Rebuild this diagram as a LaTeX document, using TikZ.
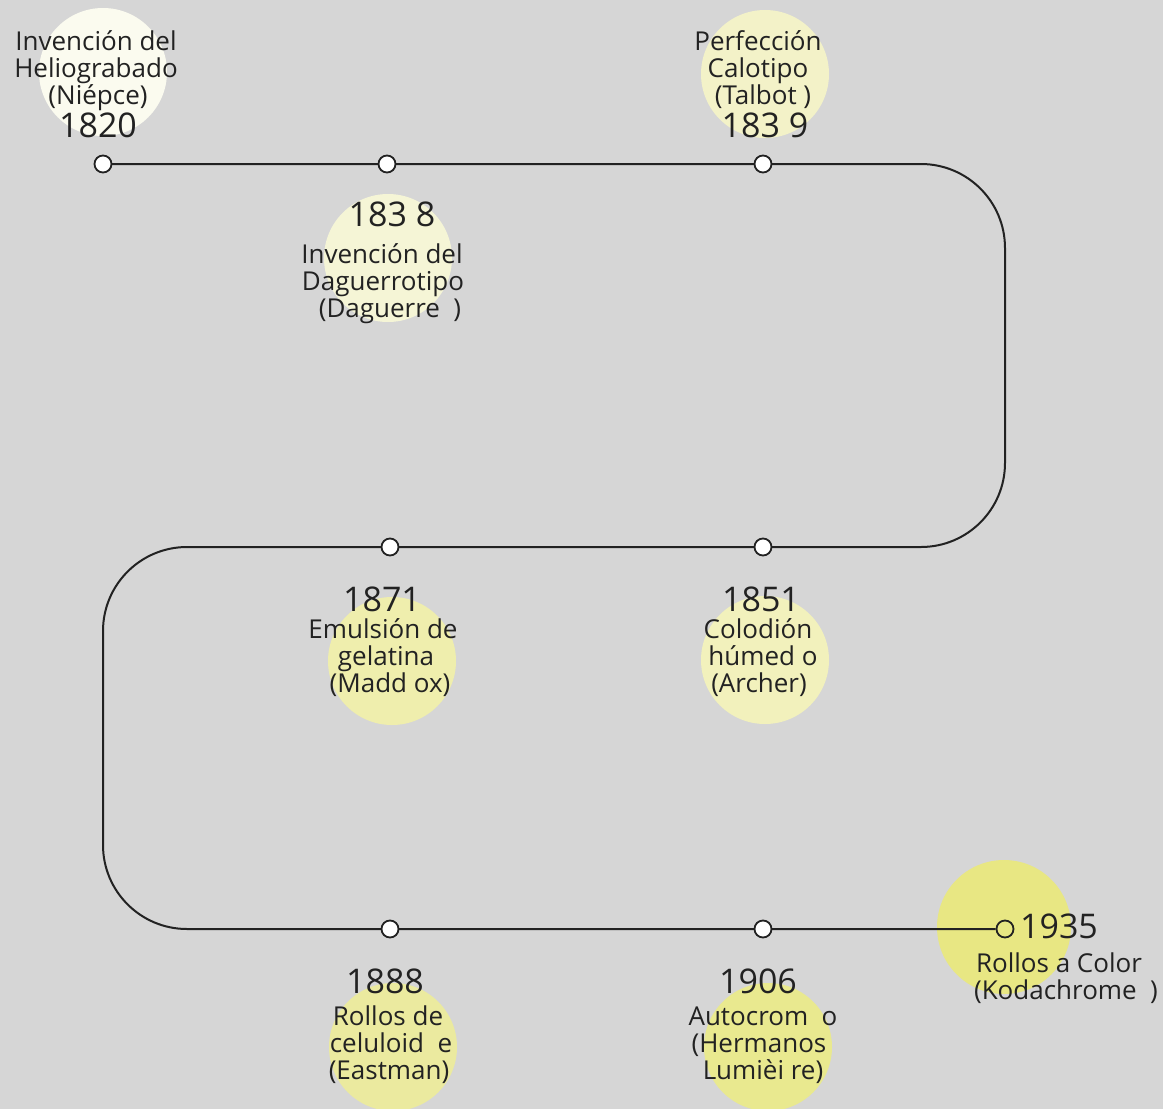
\documentclass[tikz,border=0pt]{standalone}
\usepackage{fontspec}
\setmainfont{Open Sans}
\pgfdeclarelayer{back}
\pgfdeclarelayer{lines}
\pgfsetlayers{back,lines,main}
\definecolor{bgc}{HTML}{D6D6D6}
\definecolor{ink}{HTML}{222222}
\definecolor{b1}{HTML}{FBFBEF}
\definecolor{b2}{HTML}{F5F5D6}
\definecolor{b3}{HTML}{F3F2C8}
\definecolor{b4}{HTML}{EFEEAD}
\definecolor{b5}{HTML}{F2F1BC}
\definecolor{b6}{HTML}{EBEA9F}
\definecolor{b7}{HTML}{E9E98F}
\definecolor{b8}{HTML}{E8E783}
\tikzset{
  bubble/.style={circle, minimum size=128pt, inner sep=0pt, draw=none},
  dot/.style={circle, minimum size=17pt, inner sep=0pt, draw=ink, line width=1.8pt, fill=white},
  hollowdot/.style={circle, minimum size=17pt, inner sep=0pt, draw=ink, line width=1.8pt},
  lbl/.style={text=ink, inner sep=0pt, anchor=base, font=\fontsize{26}{27}\selectfont},
  yr/.style={text=ink, inner sep=0pt, anchor=base, font=\fontsize{34}{36}\selectfont},
  track/.style={draw=ink, line width=2pt, rounded corners=84pt}
}
\begin{document}
\begin{tikzpicture}[x=1pt,y=-1pt]
\useasboundingbox (0,0) rectangle (1163,1109);
\begin{pgfonlayer}{back}
\fill[bgc] (0,0) rectangle (1163,1109);
\node[bubble, fill=b1] (c1820) at (103,72) {};
\node[bubble, fill=b2] (c1838) at (388,258) {};
\node[bubble, fill=b3] (c1839) at (765,74) {};
\node[bubble, fill=b4] (c1871) at (392,661) {};
\node[bubble, fill=b5] (c1851) at (765,660) {};
\node[bubble, fill=b6] (c1888) at (393,1047) {};
\node[bubble, fill=b7] (c1906) at (768,1047) {};
\node[bubble, fill=b8, minimum size=134pt] (c1935) at (1004,927) {};
\end{pgfonlayer}

\node[dot] (d1820) at (103,164) {};
\node[dot] (d1838) at (387,164) {};
\node[dot] (d1839) at (763,164) {};
\coordinate (k1) at (1005,164);
\coordinate (k2) at (1005,547);
\node[dot] (d1851) at (763,547) {};
\node[dot] (d1871) at (390,547) {};
\coordinate (k3) at (103,547);
\coordinate (k4) at (103,929);
\node[dot] (d1888) at (390,929) {};
\node[dot] (d1906) at (763,929) {};
\node[hollowdot] (d1935) at (1005,929) {};

\begin{pgfonlayer}{lines}
\draw[track] (d1820.center) -- (d1838.center) -- (d1839.center) -- (k1) -- (k2)
  -- (d1851.center) -- (d1871.center) -- (k3) -- (k4) -- (d1888.center)
  -- (d1906.center) -- (d1935.west);
\end{pgfonlayer}

% 1820
\node[lbl] (t1820a) at (96,50) {Invención del};
\node[lbl] (t1820b) at (96,77) {Heliograbado};
\node[lbl] (t1820c) at (98,104) {(Niépce)};
\node[yr] (y1820) at (98,137) {1820};
% 1838
\node[yr] (y1838) at (392,226) {183 8};
\node[lbl] (t1838a) at (382,263) {Invención del};
\node[lbl] (t1838b) at (383,290) {Daguerrotipo};
\node[lbl] (t1838c) at (390,317) {(Daguerre\ \ )};
% 1839
\node[lbl] (t1839a) at (758,50) {Perfección};
\node[lbl] (t1839b) at (758,77) {Calotipo};
\node[lbl] (t1839c) at (763,104) {(Talbot )};
\node[yr] (y1839) at (765,137) {183 9};
% 1871
\node[yr] (y1871) at (382,611) {1871};
\node[lbl] (t1871a) at (383,638) {Emulsión de};
\node[lbl] (t1871b) at (386,665) {gelatina};
\node[lbl] (t1871c) at (390,692) {(Madd ox)};
% 1851
\node[yr] (y1851) at (761,611) {1851};
\node[lbl] (t1851a) at (758,638) {Colodión};
\node[lbl] (t1851b) at (763,665) {húmed o};
\node[lbl] (t1851c) at (759,692) {(Archer)};
% 1888
\node[yr] (y1888) at (385,993) {1888};
\node[lbl] (t1888a) at (388,1025) {Rollos de};
\node[lbl] (t1888b) at (391,1052) {celuloid\ \ e};
\node[lbl] (t1888c) at (389,1079) {(Eastman)};
% 1906
\node[yr] (y1906) at (758,993) {1906};
\node[lbl] (t1906a) at (763,1025) {Autocrom\ \ o};
\node[lbl] (t1906b) at (759,1052) {(Hermanos};
\node[lbl] (t1906c) at (763,1079) {Lumièi re)};
% 1935
\node[yr] (y1935) at (1059,938) {1935};
\node[lbl] (t1935a) at (1059,972) {Rollos a Color};
\node[lbl] (t1935b) at (1066,999) {(Kodachrome\ \ )};
\end{tikzpicture}
\end{document}
